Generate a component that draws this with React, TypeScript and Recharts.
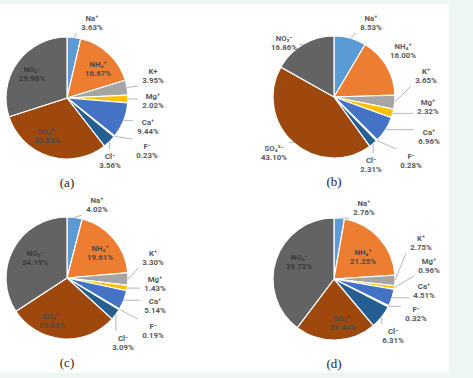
import { PieChart, Pie, Cell } from "recharts";

const NAMES = ["Na⁺", "NH₄⁺", "K⁺", "Mg⁺", "Ca⁺", "F⁻", "Cl⁻", "SO₄²⁻", "NO₃⁻"];
const NAMES_A = ["Na⁺", "NH₄⁺", "K+", "Mg⁺", "Ca⁺", "F⁻", "Cl⁻", "SO₄²⁻", "NO₃⁻"];

const VALUES_A = [3.63, 16.67, 3.95, 2.02, 9.44, 0.23, 3.56, 30.53, 29.98];
const VALUES_B = [8.53, 16.0, 3.65, 2.32, 6.96, 0.28, 2.31, 43.1, 16.86];
const VALUES_C = [4.02, 19.61, 3.3, 1.43, 5.14, 0.19, 3.09, 29.03, 34.19];
const VALUES_D = [2.76, 21.25, 2.75, 0.96, 4.51, 0.32, 6.31, 21.44, 39.72];

const CAPTIONS = ["(a)", "(b)", "(c)", "(d)"];

const COLORS = ["#5B9BD5", "#ED7D31", "#A5A5A5", "#FFC000", "#4472C4", "#70AD47", "#255E91", "#9E480E", "#636363"];

// label offsets from the pie centre: [dx, dy, mode]
type Mode = "in" | "out" | "line";
const LAYOUT_A: [number, number, Mode][] = [
  [25, -76, "line"], [31, -30, "in"], [86, -23, "line"], [86, 2, "line"], [81, 28, "line"],
  [80, 52, "line"], [43, 62, "line"], [-20, 37, "in"], [-35, -25, "in"],
];
const LAYOUT_B: [number, number, Mode][] = [
  [37, -75, "line"], [69, -47, "out"], [92, -22, "line"], [94, 9, "line"], [95, 39, "line"],
  [77, 63, "line"], [37, 67, "line"], [-60, 55, "line"], [-50, -55, "line"],
];
const LAYOUT_C: [number, number, Mode][] = [
  [30, -74, "line"], [33, -26, "in"], [86, -21, "line"], [88, 5, "line"], [88, 27, "line"],
  [86, 52, "line"], [56, 64, "line"], [-15, 42, "in"], [-32, -21, "in"],
];
const LAYOUT_D: [number, number, Mode][] = [
  [30, -72, "line"], [29, -23, "in"], [87, -37, "line"], [95, -14, "line"], [90, 11, "line"],
  [82, 34, "line"], [59, 56, "line"], [9, 43, "in"], [-35, -18, "in"],
];

const RAD = Math.PI / 180;

function makeLabel(names: string[], layout: [number, number, Mode][]) {
  return (props: any) => {
    const { cx, cy, midAngle, outerRadius, index, value } = props;
    const [dx, dy, mode] = layout[index];
    const lx = cx + dx;
    const ly = cy + dy;
    let line = null;
    if (mode === "line") {
      const px = cx + outerRadius * Math.cos(-midAngle * RAD);
      const py = cy + outerRadius * Math.sin(-midAngle * RAD);
      const hw = 15;
      const hh = 11;
      const ex = Math.min(Math.max(px, lx - hw), lx + hw);
      const ey = Math.min(Math.max(py, ly - hh), ly + hh);
      line = <line x1={px} y1={py} x2={ex} y2={ey} stroke="#A6A6A6" strokeWidth={0.8} />;
    }
    const fill = mode === "in" ? (index === 8 ? "#3A3A3A" : "#4A4A4A") : "#595959";
    return (
      <g>
        {line}
        <text
          x={lx}
          y={ly}
          textAnchor="middle"
          fill={fill}
          fontSize={7.8}
          fontWeight="bold"
          fontFamily="Roboto, 'Liberation Sans', sans-serif"
        >
          <tspan x={lx} dy={-1.5}>{names[index]}</tspan>
          <tspan x={lx} dy={9.5}>{Number(value).toFixed(2)}%</tspan>
        </text>
      </g>
    );
  };
}

function OnePie({ values, names, layout, cx, cy, caption, left, top }: any) {
  const data = values.map((v: number, i: number) => ({ name: names[i], value: v }));
  return (
    <div style={{ position: "absolute", left, top, width: 236, height: 189 }}>
      <PieChart width={236} height={189} margin={{ top: 0, right: 0, bottom: 0, left: 0 }}>
        <Pie
          data={data}
          dataKey="value"
          cx={cx}
          cy={cy}
          outerRadius={61}
          startAngle={90}
          endAngle={-270}
          stroke="#FFFFFF"
          strokeWidth={1.2}
          labelLine={false}
          label={makeLabel(names, layout)}
          isAnimationActive={false}
        >
          {data.map((_: any, i: number) => (
            <Cell key={`cell-${i}`} fill={COLORS[i]} />
          ))}
        </Pie>
      </PieChart>
      <div
        style={{
          position: "absolute",
          left: cx - 20,
          top: cy + 77,
          width: 40,
          textAlign: "center",
          fontFamily: "'Liberation Serif', serif",
          fontSize: 13,
          color: "#222",
        }}
      >
        {caption}
      </div>
    </div>
  );
}

export default function App() {
  return (
    <div style={{ position: "fixed", left: 0, top: 0, width: 473, height: 378, background: "#EEF6F2" }}>
      <div style={{ position: "absolute", left: 0, top: 4, width: 449, height: 369, background: "#FFFFFF" }} />
      <OnePie values={VALUES_A} names={NAMES_A} layout={LAYOUT_A} cx={67} cy={98} caption={CAPTIONS[0]} left={0} top={0} />
      <OnePie values={VALUES_B} names={NAMES} layout={LAYOUT_B} cx={98} cy={97} caption={CAPTIONS[1]} left={236} top={0} />
      <OnePie values={VALUES_C} names={NAMES} layout={LAYOUT_C} cx={67} cy={89} caption={CAPTIONS[2]} left={0} top={189} />
      <OnePie values={VALUES_D} names={NAMES} layout={LAYOUT_D} cx={98} cy={90} caption={CAPTIONS[3]} left={236} top={189} />
    </div>
  );
}
